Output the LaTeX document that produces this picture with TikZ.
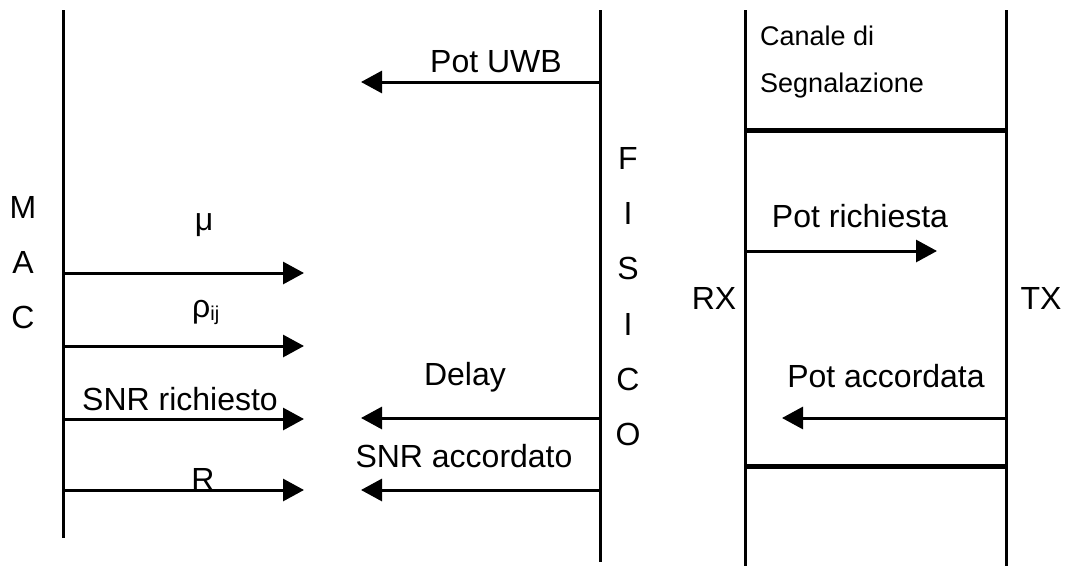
\documentclass[tikz,border=0pt]{standalone}
\usepackage{fontspec}
\setmainfont{Liberation Sans}
\usetikzlibrary{arrows.meta}
\begin{document}
\begin{tikzpicture}[x=1pt,y=-1pt,
  lane/.style={line width=3pt},
  sepline/.style={line width=5pt},
  msg/.style={line width=3pt,-{Triangle[length=21pt,width=22pt]}},
  lbl/.style={inner sep=0pt,anchor=base,font=\fontsize{32}{38}\selectfont},
  smalllbl/.style={inner sep=0pt,anchor=base west,font=\fontsize{27}{32}\selectfont}]
\useasboundingbox (0,0) rectangle (1069,568);
% lanes
\coordinate (macT) at (63,10);   \coordinate (macB) at (63,538);
\coordinate (fisT) at (600,10);  \coordinate (fisB) at (600,562);
\coordinate (rxT) at (745,10);   \coordinate (rxB) at (745,566);
\coordinate (txT) at (1006,10);  \coordinate (txB) at (1006,566);
\draw[lane] (macT) -- (macB);
\draw[lane] (fisT) -- (fisB);
\draw[lane] (rxT) -- (rxB);
\draw[lane] (txT) -- (txB);
% separators
\coordinate (s1a) at (745,130); \coordinate (s1b) at (1006,130);
\coordinate (s2a) at (745,466); \coordinate (s2b) at (1006,466);
\draw[sepline] (s1a) -- (s1b);
\draw[sepline] (s2a) -- (s2b);
% arrow endpoints
\coordinate (uwbS) at (600,82);  \coordinate (uwbE) at (361,82);
\coordinate (muS) at (63,273);   \coordinate (muE) at (304,273);
\coordinate (rhoS) at (63,346);  \coordinate (rhoE) at (304,346);
\coordinate (snrrS) at (63,419); \coordinate (snrrE) at (304,419);
\coordinate (rS) at (63,490);    \coordinate (rE) at (304,490);
\coordinate (delS) at (600,418); \coordinate (delE) at (361,418);
\coordinate (snraS) at (600,490);\coordinate (snraE) at (361,490);
\coordinate (prS) at (745,251);  \coordinate (prE) at (937,251);
\coordinate (paS) at (1006,418); \coordinate (paE) at (782,418);
\draw[msg] (uwbS) -- (uwbE);
\draw[msg] (muS) -- (muE);
\draw[msg] (rhoS) -- (rhoE);
\draw[msg] (snrrS) -- (snrrE);
\draw[msg] (rS) -- (rE);
\draw[msg] (delS) -- (delE);
\draw[msg] (snraS) -- (snraE);
\draw[msg] (prS) -- (prE);
\draw[msg] (paS) -- (paE);
% labels
\node[lbl] (tuwb) at (496,72) {Pot UWB};
\node[lbl] (tmu) at (204,230) {μ};
\node[lbl,anchor=base west] (trho) at (192,317) {ρ\raisebox{-3pt}{\fontsize{20}{24}\selectfont ij}};
\node[lbl] (tsnrr) at (180,410) {SNR richiesto};
\node[lbl] (tr) at (203,490) {R};
\node[lbl] (tdel) at (465,385) {Delay};
\node[lbl] (tsnra) at (464,467) {SNR accordato};
\node[lbl] (tpr) at (860,227) {Pot richiesta};
\node[lbl] (tpa) at (886,387) {Pot accordata};
\node[lbl] (trx) at (714,309) {RX};
\node[lbl] (ttx) at (1041,309) {TX};
\node[smalllbl] (tc1) at (760,45) {Canale di};
\node[smalllbl] (tc2) at (760,92) {Segnalazione};
% MAC
\node[lbl] (m1) at (23,218) {M};
\node[lbl] (m2) at (23,273) {A};
\node[lbl] (m3) at (23,328) {C};
% FISICO
\node[lbl] (f1) at (628,169) {F};
\node[lbl] (f2) at (628,224) {I};
\node[lbl] (f3) at (628,279) {S};
\node[lbl] (f4) at (628,335) {I};
\node[lbl] (f5) at (628,390) {C};
\node[lbl] (f6) at (628,445) {O};
\end{tikzpicture}
\end{document}
